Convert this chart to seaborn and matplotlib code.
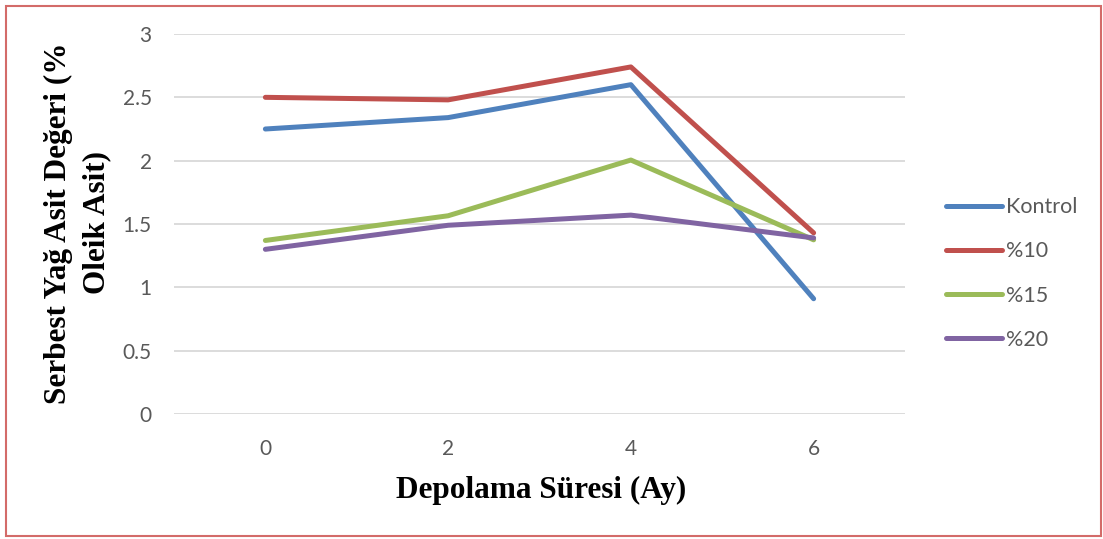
import matplotlib
matplotlib.use("Agg")
import matplotlib.pyplot as plt
from matplotlib.patches import Rectangle
import pandas as pd
import seaborn as sns

# Storage time (months) and free fatty acid values (% oleic acid)
months = [0, 2, 4, 6]
kontrol = [2.25, 2.34, 2.60, 0.91]
yuzde10 = [2.50, 2.48, 2.74, 1.43]
yuzde15 = [1.37, 1.565, 2.005, 1.375]
yuzde20 = [1.30, 1.49, 1.57, 1.39]

series_names = ["Kontrol", "%10", "%15", "%20"]
series_values = [kontrol, yuzde10, yuzde15, yuzde20]
colors = ["#4F81BD", "#C0504D", "#9BBB59", "#8064A2"]

rows = []
for name, vals in zip(series_names, series_values):
    for m, v in zip(months, vals):
        rows.append({"Ay": m, "Deger": v, "Grup": name})
df = pd.DataFrame(rows)

sns.set_theme(style="white")
plt.rcParams["font.family"] = ["Lato", "DejaVu Sans"]

fig = plt.figure(figsize=(11.03, 5.39), dpi=100)
ax = fig.add_axes([174 / 1103, 1 - 414 / 539, (905 - 174) / 1103, (414 - 34) / 539])

sns.lineplot(data=df, x="Ay", y="Deger", hue="Grup", hue_order=series_names,
             palette=colors, linewidth=3.6, ax=ax, legend=False,
             solid_capstyle="round", solid_joinstyle="round")

ax.set_xlim(-1, 7)
ax.set_ylim(0, 3)
ax.set_xticks(months)
ax.set_yticks([0, 0.5, 1, 1.5, 2, 2.5, 3])
ax.set_yticklabels(["0", "0.5", "1", "1.5", "2", "2.5", "3"])
ax.yaxis.grid(True, color="#D9D9D9", linewidth=1.3)
ax.xaxis.grid(False)
for s in ax.spines.values():
    s.set_visible(False)
ax.tick_params(axis="both", length=0, labelsize=15, colors="#595959")
ax.tick_params(axis="y", pad=16)
ax.tick_params(axis="x", pad=18)

serif = ["Liberation Serif", "DejaVu Serif"]
ax.set_xlabel("")
ax.set_ylabel("")
fig.text(541 / 1103, 1 - 490 / 539, "Depolama Süresi (Ay)", ha="center", va="center",
         fontsize=22.5, fontweight="bold", family=serif, color="black")
fig.text(58 / 1103, 1 - 223 / 539, "Serbest Yağ Asit Değeri (%", rotation=90,
         ha="center", va="center", fontsize=22.5, fontweight="bold", family=serif, color="black")
fig.text(97 / 1103, 1 - 223 / 539, "Oleik Asit)", rotation=90,
         ha="center", va="center", fontsize=22.5, fontweight="bold", family=serif, color="black")

# Legend on the right
handles = [plt.Line2D([], [], color=c, linewidth=3.6, solid_capstyle="round") for c in colors]
leg = fig.legend(handles, series_names, loc="upper left",
                 bbox_to_anchor=(927 / 1103, 1 - 178 / 539), frameon=False,
                 fontsize=15.5, handlelength=2.6, handletextpad=0.15, labelspacing=1.12)
for t in leg.get_texts():
    t.set_color("#595959")

# Outer frame
fig.patches.append(Rectangle((6 / 1103, 3 / 539), 1095 / 1103, 530 / 539,
                             transform=fig.transFigure, fill=False,
                             edgecolor="#D36B69", linewidth=1.5))

fig.savefig("out.png", dpi=100)
